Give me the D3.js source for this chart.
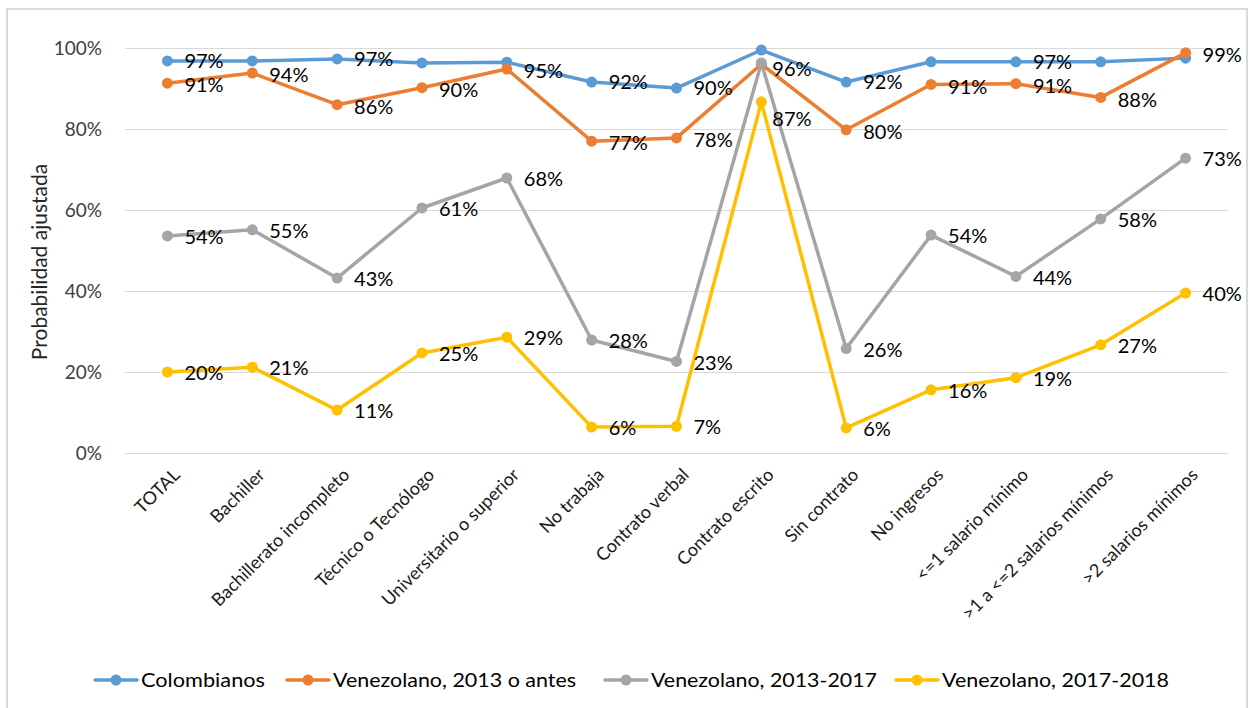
<!DOCTYPE html>
<html>
<head>
<meta charset="utf-8">
<script src="https://cdn.jsdelivr.net/npm/d3@7"></script>
<style>
  html, body { margin: 0; padding: 0; background: #fff; }
  svg { display: block; font-family: Lato, "Open Sans", sans-serif; }
</style>
</head>
<body>
<svg id="chart" width="1249" height="708"></svg>
<script>
// ---------- data ----------
const categories = ["TOTAL", "Bachiller", "Bachillerato incompleto", "Técnico o Tecnólogo",
  "Universitario o superior", "No trabaja", "Contrato verbal", "Contrato escrito",
  "Sin contrato", "No ingresos", "<=1 salario mínimo", ">1 a <=2 salarios mínimos", ">2 salarios mínimos"];

const seriesNames = ["Colombianos", "Venezolano, 2013 o antes", "Venezolano, 2013-2017", "Venezolano, 2017-2018"];

const colombianos = [0.968, 0.968, 0.973, 0.963, 0.965, 0.916, 0.901, 0.995, 0.916, 0.966, 0.966, 0.966, 0.975];
const ven2013antes = [0.913, 0.938, 0.860, 0.902, 0.948, 0.770, 0.778, 0.960, 0.798, 0.910, 0.912, 0.878, 0.988];
const ven2013_2017 = [0.536, 0.551, 0.432, 0.605, 0.679, 0.279, 0.226, 0.963, 0.258, 0.538, 0.436, 0.578, 0.728];
const ven2017_2018 = [0.200, 0.212, 0.106, 0.247, 0.286, 0.064, 0.066, 0.867, 0.062, 0.156, 0.186, 0.267, 0.395];

// which data labels are shown (others hidden as in the original)
const showColombianos = [true, false, true, false, false, true, true, false, true, false, true, false, false];
const showVen2013antes = [true, true, true, true, true, true, true, false, true, true, true, true, true];
const showVen2013_2017 = [true, true, true, true, true, true, true, true, true, true, true, true, true];
const showVen2017_2018 = [true, true, true, true, true, true, true, true, true, true, true, true, true];

const yTicks = [0, 0.2, 0.4, 0.6, 0.8, 1.0];
const yTitle = "Probabilidad ajustada";

// ---------- styling / layout ----------
const colors = ["#5B9BD5", "#ED7D31", "#A5A5A5", "#FFC000"];
const seriesValues = [colombianos, ven2013antes, ven2013_2017, ven2017_2018];
const seriesShow = [showColombianos, showVen2013antes, showVen2013_2017, showVen2017_2018];
// manual label nudges (series index, category index) -> [dx, dy]
const labelNudge = { "2-7": [-6, 5], "3-7": [-6, 16] };
const seriesLabelDy = [0, 2, 1, 1];

const svg = d3.select("#chart");
const plot = { left: 125, right: 1228, top: 48, bottom: 453 };

const x = d3.scalePoint().domain(categories).range([plot.left, plot.right]).padding(0.5);
const y = d3.scaleLinear().domain([0, 1]).range([plot.bottom, plot.top]);
const pct = d3.format(".0%");

// chart border
svg.append("rect")
  .attr("x", 7).attr("y", 9).attr("width", 1240).attr("height", 720)
  .attr("fill", "none").attr("stroke", "#d9d9d9").attr("stroke-width", 2);

// gridlines
svg.append("g").selectAll("line").data(yTicks).join("line")
  .attr("x1", plot.left).attr("x2", plot.right)
  .attr("y1", d => Math.round(y(d)) + 0.5).attr("y2", d => Math.round(y(d)) + 0.5)
  .attr("stroke", "#d9d9d9").attr("stroke-width", 1);

// y axis labels
const yAxis = d3.axisLeft(y).tickValues(yTicks).tickFormat(pct).tickSize(0).tickPadding(0);
const gy = svg.append("g").attr("transform", `translate(102,0)`).call(yAxis);
gy.select(".domain").remove();
gy.selectAll("text").attr("font-size", 19).attr("fill", "#404040")
  .attr("font-family", "Lato, 'Open Sans', sans-serif");

// y title
svg.append("text")
  .attr("transform", `translate(47,262) rotate(-90)`)
  .attr("text-anchor", "middle").attr("font-size", 21).attr("fill", "#262626")
  .text(yTitle);

// x axis category labels
const xAxis = d3.axisBottom(x).tickSize(0).tickPadding(0);
const gx = svg.append("g").attr("transform", `translate(0,${plot.bottom})`).call(xAxis);
gx.select(".domain").remove();
gx.selectAll("text")
  .attr("font-size", 18).attr("fill", "#1a1a1a")
  .attr("font-family", "Lato, 'Open Sans', sans-serif")
  .attr("text-anchor", "end")
  .attr("dy", null).attr("y", null)
  .attr("transform", "translate(13,23) rotate(-45)");

// lines and markers
const line = d3.line().x((d, i) => x(categories[i])).y(d => y(d));
seriesValues.forEach((vals, s) => {
  const g = svg.append("g");
  g.append("path").datum(vals)
    .attr("d", line).attr("fill", "none")
    .attr("stroke", colors[s]).attr("stroke-width", 3.5)
    .attr("stroke-linejoin", "round").attr("stroke-linecap", "round");
  g.selectAll("circle").data(vals).join("circle")
    .attr("cx", (d, i) => x(categories[i])).attr("cy", d => y(d))
    .attr("r", 5.5).attr("fill", colors[s]);
});

// data labels (on top)
const lg = svg.append("g");
seriesValues.forEach((vals, s) => {
  vals.forEach((v, i) => {
    if (!seriesShow[s][i]) return;
    const n = labelNudge[`${s}-${i}`] || [0, 0];
    lg.append("text")
      .attr("x", x(categories[i]) + 17 + n[0])
      .attr("y", y(v) + seriesLabelDy[s] + n[1])
      .attr("dy", "0.36em")
      .attr("font-size", 20).attr("fill", "#000")
      .text(pct(v));
  });
});

// legend
const legendX = [95, 287, 605, 896];
const legendTextW = [124, 243, 226, 227];
const legendY = 680;
const leg = svg.append("g");
seriesNames.forEach((name, s) => {
  const g = leg.append("g").attr("transform", `translate(${legendX[s]},${legendY})`);
  g.append("line").attr("x1", 0).attr("x2", 42).attr("y1", 0).attr("y2", 0)
    .attr("stroke", colors[s]).attr("stroke-width", 3.5).attr("stroke-linecap", "round");
  g.append("circle").attr("cx", 21).attr("cy", 0).attr("r", 5.5).attr("fill", colors[s]);
  g.append("text").attr("x", 46).attr("y", 0).attr("dy", "0.36em")
    .attr("font-size", 19).attr("fill", "#000")
    .attr("textLength", legendTextW[s]).attr("lengthAdjust", "spacingAndGlyphs")
    .text(name);
});
</script>
</body>
</html>
